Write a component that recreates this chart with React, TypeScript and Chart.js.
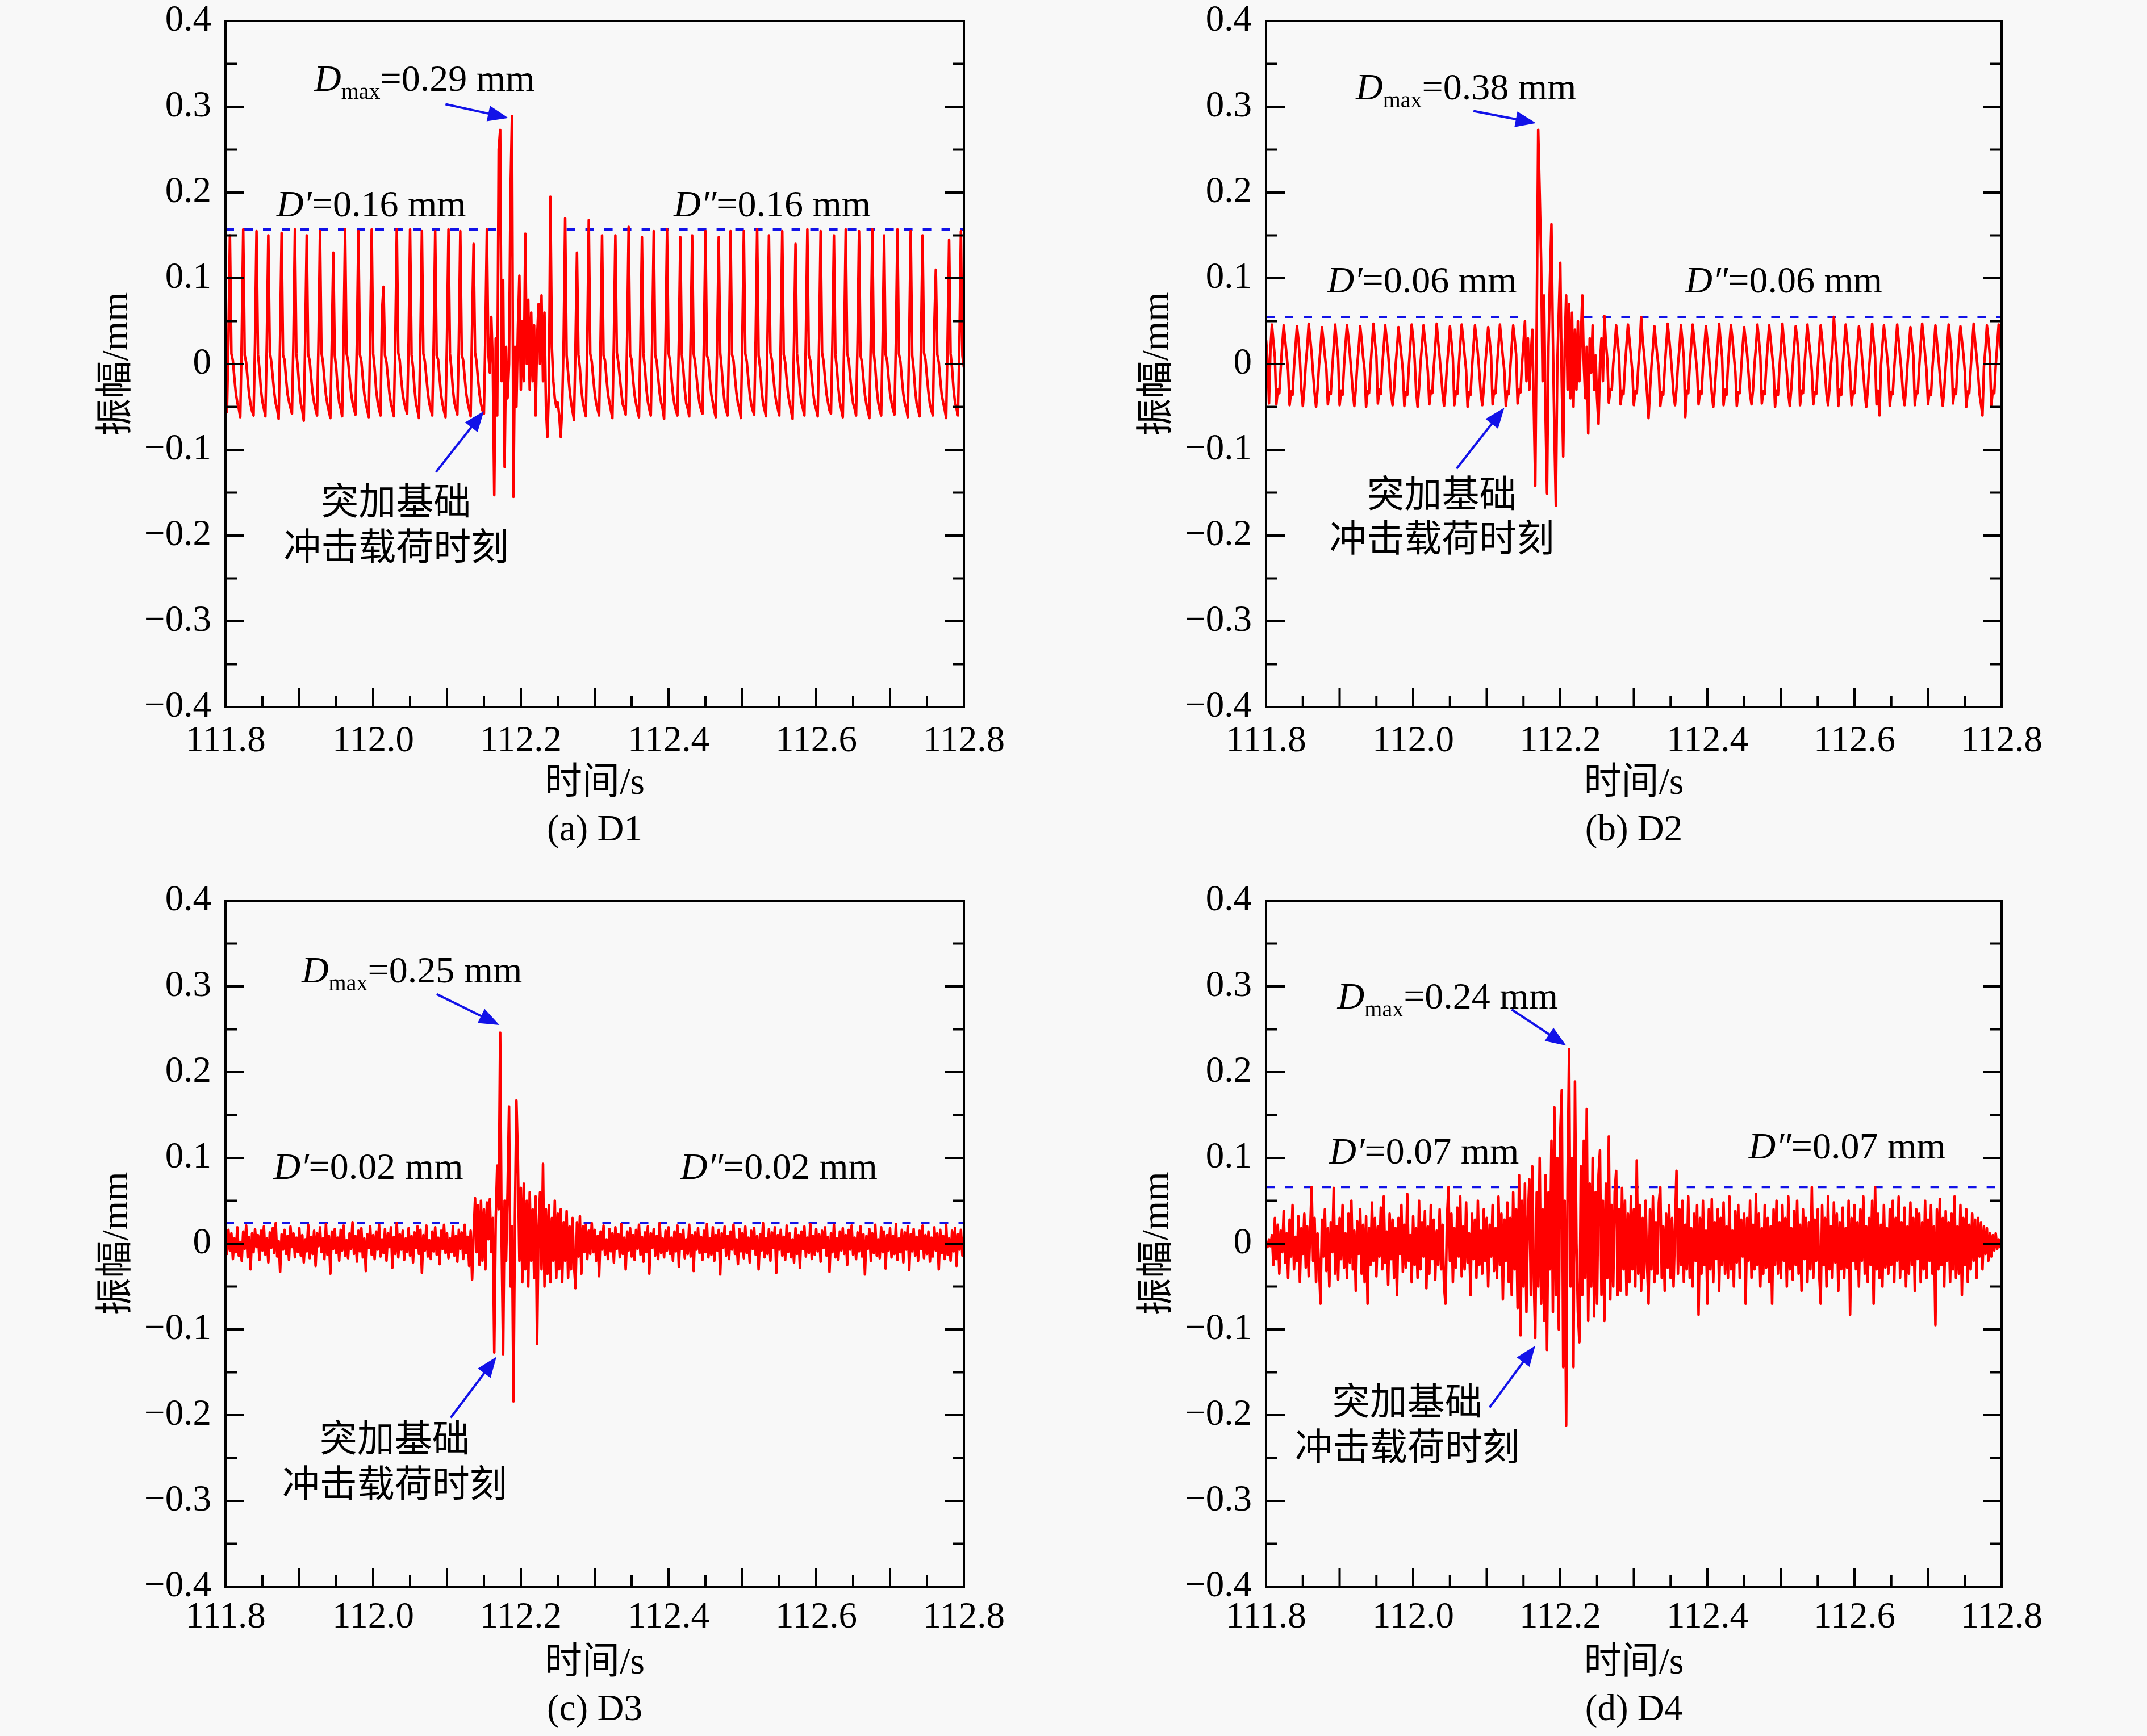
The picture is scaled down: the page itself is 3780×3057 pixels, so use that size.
import React, { useEffect, useRef } from "react";
import { Chart, registerables } from "chart.js";

Chart.register(...registerables);

// ---------- sampling of the traces ----------
const SAMPLE_START = 111.8; // s
const SAMPLE_STEP = 0.002; // s

// ---------- axes ----------
const xTickLabels = [111.8, 112.0, 112.2, 112.4, 112.6, 112.8];
const xMajorTicks = [111.8, 111.9, 112.0, 112.1, 112.2, 112.3, 112.4, 112.5, 112.6, 112.7, 112.8];
const xMinorTicks = [111.85, 111.95, 112.05, 112.15, 112.25, 112.35, 112.45, 112.55, 112.65, 112.75];
const yTickLabels = [-0.4, -0.3, -0.2, -0.1, 0, 0.1, 0.2, 0.3, 0.4];
const yMinorTicks = [-0.35, -0.25, -0.15, -0.05, 0.05, 0.15, 0.25, 0.35];

// ---------- summary values ----------
const captions = ["(a) D1", "(b) D2", "(c) D3", "(d) D4"];
const dmaxValues = ["0.29", "0.38", "0.25", "0.24"];
const dBeforeValues = ["0.16", "0.06", "0.02", "0.07"];
const dAfterValues = ["0.16", "0.06", "0.02", "0.07"];
const dLevels = [0.157, 0.055, 0.024, 0.066];
const dGapStart = [112.169, 112.143, 112.122, 112.147];
const dGapEnd = [112.262, 112.232, 112.285, 112.27];

// ---------- traces (mm) ----------
const d1Amplitude = [
  -0.046, -0.056, 0.030,
  0.150, 0.012, 0.004, -0.016, -0.034, -0.045, -0.052, -0.062, 0.030,
  0.157, 0.010, 0.002, -0.018, -0.036, -0.047, -0.055, -0.060, 0.025,
  0.155, 0.011, -0.006, -0.030, -0.044, -0.052, -0.061, 0.028,
  0.150, 0.014, 0.003, -0.015, -0.033, -0.046, -0.053, -0.064, 0.032,
  0.153, 0.010, 0.005, -0.017, -0.035, -0.044, -0.051, -0.058, 0.027,
  0.157, 0.012, -0.004, -0.028, -0.046, -0.054, -0.066, 0.030,
  0.150, 0.011, 0.004, -0.016, -0.034, -0.045, -0.053, -0.060, 0.029,
  0.155, 0.013, 0.002, -0.018, -0.036, -0.047, -0.055, -0.063, 0.026,
  0.130, 0.010, -0.005, -0.029, -0.045, -0.052, -0.061, 0.031,
  0.157, 0.012, 0.004, -0.015, -0.033, -0.045, -0.052, -0.059, 0.028,
  0.155, 0.011, 0.003, -0.017, -0.035, -0.046, -0.054, -0.062, 0.030,
  0.157, 0.012, -0.005, -0.030, -0.044, -0.053, -0.060, 0.062,
  0.090, 0.010, 0.002, -0.016, -0.034, -0.046, -0.053, -0.061, 0.029,
  0.157, 0.013, 0.004, -0.018, -0.035, -0.045, -0.052, -0.058, 0.027,
  0.157, 0.011, -0.004, -0.029, -0.046, -0.054, -0.063, 0.030,
  0.155, 0.012, 0.003, -0.015, -0.033, -0.046, -0.053, -0.060, 0.028,
  0.155, 0.010, 0.005, -0.017, -0.036, -0.047, -0.055, -0.062, 0.031,
  0.157, 0.012, -0.006, -0.030, -0.045, -0.052, -0.059, 0.026,
  0.155, 0.011, 0.004, -0.016, -0.034, -0.045, -0.053, -0.061, 0.045,
  0.140, 0.013, 0.003, -0.018, -0.035, -0.046, -0.054, -0.058, 0.035,
  0.157,
  0.012, -0.010, 0.055, 0.000, -0.153, 0.030, -0.060, 0.250, 0.273, -0.020,
  0.098, -0.120, 0.020, -0.040, 0.000, 0.200, 0.289, -0.155, 0.020, -0.050,
  0.040, 0.103, -0.030, 0.050, -0.020, 0.152, 0.000, 0.075, -0.030, 0.060,
  -0.020, 0.045, -0.060, 0.030, 0.070, 0.000, 0.080, -0.020, 0.060, -0.050,
  -0.085, -0.030, 0.195, 0.020, -0.020, -0.040, -0.050, -0.045, -0.060, -0.085,
  -0.050, 0.030, 0.170, 0.010, -0.010, -0.030, -0.045, -0.055, -0.065, 0.020,
  0.130, 0.011, -0.005, -0.030, -0.045, -0.053, -0.061, 0.028,
  0.168, 0.012, 0.003, -0.016, -0.034, -0.046, -0.053, -0.060, 0.030,
  0.150, 0.010, 0.004, -0.017, -0.035, -0.045, -0.054, -0.063, 0.027,
  0.150, 0.013, 0.002, -0.015, -0.033, -0.047, -0.052, -0.059, 0.031,
  0.160, 0.011, 0.005, -0.018, -0.036, -0.046, -0.055, -0.062, 0.028,
  0.148, 0.012, -0.004, -0.029, -0.044, -0.053, -0.060, 0.030,
  0.155, 0.010, 0.003, -0.016, -0.034, -0.045, -0.052, -0.064, 0.029,
  0.157, 0.013, 0.004, -0.017, -0.035, -0.047, -0.054, -0.060, 0.026,
  0.148, 0.011, -0.006, -0.030, -0.046, -0.052, -0.061, 0.032,
  0.150, 0.012, 0.002, -0.015, -0.033, -0.046, -0.053, -0.058, 0.028,
  0.155, 0.010, 0.005, -0.018, -0.036, -0.045, -0.055, -0.062, 0.030,
  0.148, 0.013, -0.005, -0.028, -0.045, -0.054, -0.060, 0.027,
  0.155, 0.011, 0.004, -0.016, -0.034, -0.046, -0.052, -0.063, 0.031,
  0.155, 0.012, 0.003, -0.017, -0.035, -0.047, -0.054, -0.059, 0.029,
  0.157, 0.010, -0.004, -0.029, -0.046, -0.053, -0.061, 0.028,
  0.150, 0.013, 0.005, -0.015, -0.033, -0.045, -0.052, -0.060, 0.030,
  0.155, 0.011, 0.002, -0.018, -0.036, -0.046, -0.055, -0.064, 0.027,
  0.140, 0.012, -0.006, -0.030, -0.045, -0.052, -0.060, 0.031,
  0.157, 0.010, 0.004, -0.016, -0.034, -0.047, -0.053, -0.061, 0.028,
  0.155, 0.013, 0.003, -0.017, -0.035, -0.045, -0.054, -0.058, 0.029,
  0.150, 0.011, -0.005, -0.028, -0.044, -0.053, -0.062, 0.030,
  0.157, 0.012, 0.005, -0.015, -0.033, -0.046, -0.052, -0.060, 0.027,
  0.155, 0.010, 0.002, -0.018, -0.036, -0.047, -0.055, -0.063, 0.031,
  0.157, 0.013, -0.004, -0.029, -0.045, -0.054, -0.060, 0.028,
  0.150, 0.011, 0.004, -0.016, -0.034, -0.045, -0.053, -0.059, 0.030,
  0.157, 0.012, 0.003, -0.017, -0.035, -0.046, -0.052, -0.062, 0.029,
  0.155, 0.010, -0.006, -0.030, -0.046, -0.053, -0.061, 0.028,
  0.150, 0.013, 0.005, -0.015, -0.033, -0.047, -0.054, -0.060, 0.045,
  0.110, 0.011, 0.002, -0.018, -0.036, -0.045, -0.053, -0.063, 0.030,
  0.145, 0.012, -0.005, -0.029, -0.045, -0.052, -0.060, 0.028,
  0.155, 0.010, -0.004,
];

const d2Amplitude = [
  0.028, 0.006, -0.046, 0.018,
  0.046, 0.026, 0.008, -0.047, -0.030, -0.034, -0.004, 0.022,
  0.045, 0.028, 0.010, -0.008, -0.048, -0.032, -0.036, -0.004, 0.020,
  0.044, 0.029, 0.006, -0.030, -0.049, -0.028, 0.000, 0.020,
  0.047, 0.030, 0.012, -0.012, -0.034, -0.050, -0.030, -0.002, 0.018,
  0.043, 0.027, 0.009, -0.006, -0.047, -0.033, -0.035, -0.005, 0.021,
  0.046, 0.025, 0.007, -0.048, -0.031, -0.036, -0.003, 0.023,
  0.045, 0.031, 0.011, -0.010, -0.033, -0.049, -0.029, -0.001, 0.019,
  0.044, 0.028, 0.008, -0.007, -0.050, -0.032, -0.034, -0.004, 0.022,
  0.047, 0.026, 0.009, -0.046, -0.030, -0.035, -0.002, 0.020,
  0.045, 0.029, 0.012, -0.011, -0.035, -0.048, -0.031, -0.003, 0.018,
  0.043, 0.027, 0.010, -0.008, -0.049, -0.033, -0.036, -0.005, 0.021,
  0.046, 0.030, 0.006, -0.031, -0.050, -0.029, 0.001, 0.022,
  0.045, 0.028, 0.011, -0.009, -0.047, -0.031, -0.034, -0.004, 0.020,
  0.047, 0.026, 0.008, -0.012, -0.034, -0.049, -0.030, -0.002, 0.019,
  0.044, 0.027, 0.007, -0.048, -0.032, -0.035, -0.003, 0.023,
  0.046, 0.029, 0.010, -0.007, -0.050, -0.033, -0.036, -0.004, 0.021,
  0.045, 0.030, 0.012, -0.010, -0.035, -0.048, -0.029, -0.001, 0.020,
  0.043, 0.028, 0.009, -0.047, -0.031, -0.034, -0.002, 0.022,
  0.046, 0.027, 0.008, -0.008, -0.049, -0.032, -0.035, -0.005, 0.021,
  0.045, 0.029, 0.011, -0.046, -0.030, -0.033, 0.000, 0.024,
  0.050, -0.020, 0.030, -0.030, 0.010, 0.040, -0.050, -0.142, 0.050, 0.273,
  0.200, 0.120, -0.020, 0.080, -0.060, -0.151, 0.020, 0.100, 0.163, 0.030,
  -0.080, -0.165, 0.000, 0.060, 0.118, -0.020, -0.108, 0.020, 0.080, -0.030,
  0.070, -0.040, 0.060, -0.050, 0.040, -0.030, 0.050, -0.020, 0.030, 0.080,
  0.000, -0.040, 0.020, -0.081, 0.030, -0.010, 0.045, -0.030, 0.010, -0.040,
  -0.070, 0.000, 0.030, -0.020, 0.056, 0.025, 0.005, -0.045, -0.030, -0.030, 0.000, 0.020,
  0.045, 0.027, 0.008, -0.047, -0.031, -0.035, -0.003, 0.022,
  0.046, 0.029, 0.010, -0.009, -0.048, -0.032, -0.034, -0.004, 0.020,
  0.055, 0.028, 0.011, -0.011, -0.034, -0.063, -0.030, -0.002, 0.019,
  0.044, 0.026, 0.009, -0.007, -0.049, -0.033, -0.036, -0.005, 0.021,
  0.047, 0.030, 0.012, -0.010, -0.035, -0.048, -0.029, -0.001, 0.018,
  0.045, 0.027, 0.007, -0.062, -0.031, -0.034, -0.002, 0.022,
  0.046, 0.029, 0.010, -0.008, -0.047, -0.032, -0.035, -0.004, 0.020,
  0.044, 0.028, 0.011, -0.012, -0.034, -0.050, -0.030, -0.003, 0.019,
  0.047, 0.026, 0.008, -0.048, -0.030, -0.036, -0.002, 0.023,
  0.045, 0.030, 0.010, -0.009, -0.049, -0.033, -0.034, -0.005, 0.021,
  0.043, 0.027, 0.012, -0.011, -0.035, -0.047, -0.031, -0.001, 0.020,
  0.046, 0.029, 0.009, -0.046, -0.032, -0.035, -0.003, 0.022,
  0.045, 0.028, 0.011, -0.007, -0.050, -0.031, -0.036, -0.004, 0.019,
  0.047, 0.026, 0.008, -0.010, -0.034, -0.049, -0.030, -0.002, 0.021,
  0.044, 0.030, 0.010, -0.048, -0.031, -0.034, -0.003, 0.023,
  0.046, 0.027, 0.012, -0.008, -0.047, -0.033, -0.035, -0.005, 0.020,
  0.045, 0.029, 0.009, -0.012, -0.035, -0.048, -0.029, -0.001, 0.018,
  0.055, 0.028, 0.007, -0.049, -0.030, -0.036, -0.002, 0.022,
  0.046, 0.026, 0.011, -0.009, -0.048, -0.032, -0.034, -0.004, 0.021,
  0.044, 0.030, 0.010, -0.011, -0.034, -0.050, -0.031, -0.003, 0.019,
  0.047, 0.027, 0.008, -0.047, -0.031, -0.060, -0.002, 0.022,
  0.045, 0.029, 0.012, -0.007, -0.049, -0.033, -0.035, -0.005, 0.020,
  0.046, 0.028, 0.009, -0.010, -0.035, -0.048, -0.030, -0.001, 0.021,
  0.043, 0.026, 0.010, -0.048, -0.032, -0.034, -0.003, 0.023,
  0.047, 0.030, 0.011, -0.008, -0.047, -0.031, -0.036, -0.004, 0.019,
  0.045, 0.027, 0.008, -0.012, -0.034, -0.049, -0.029, -0.002, 0.020,
  0.046, 0.029, 0.010, -0.046, -0.030, -0.035, -0.001, 0.022,
  0.044, 0.028, 0.012, -0.009, -0.050, -0.032, -0.034, -0.005, 0.021,
  0.047, 0.026, 0.009, -0.011, -0.035, -0.047, -0.060, -0.003, 0.018,
  0.045, 0.030, 0.010, -0.048, -0.031, -0.034, -0.002, 0.022,
  0.046, 0.027, 0.009,
];

const d3Amplitude = [
  0.004, -0.012, 0.016, -0.008, 0.012, -0.018, 0.006, -0.010, 0.019, -0.014, 0.002, -0.020, 0.014, -0.006, 0.021, -0.016, 0.008, -0.030, 0.012, -0.010, 0.017, -0.004, 0.010, -0.019, 0.015,
  -0.008, 0.020, -0.013, 0.006, -0.022, 0.013, -0.005, 0.018, -0.011, 0.024, -0.015, 0.003, -0.033, 0.011, -0.007, 0.016, -0.012, 0.009, -0.019, 0.020, -0.004, 0.012, -0.016, 0.007, -0.010,
  0.018, -0.014, 0.010, -0.022, 0.005, -0.009, 0.022, -0.017, 0.008, -0.012, 0.015, -0.026, 0.012, -0.003, 0.019, -0.010, 0.006, -0.018, 0.023, -0.013, 0.009, -0.035, 0.014, -0.006, 0.017,
  -0.011, 0.007, -0.020, 0.016, -0.008, 0.021, -0.014, 0.004, -0.017, 0.012, -0.006, 0.025, -0.012, 0.009, -0.021, 0.015, -0.009, 0.018, -0.016, 0.006, -0.032, 0.011, -0.005, 0.020, -0.013,
  0.010, -0.018, 0.014, -0.007, 0.022, -0.015, 0.005, -0.011, 0.017, -0.020, 0.012, -0.004, 0.019, -0.028, 0.008, -0.012, 0.024, -0.016, 0.011, -0.007, 0.015, -0.019, 0.006, -0.010, 0.018,
  -0.014, 0.009, -0.022, 0.013, -0.005, 0.020, -0.012, 0.016, -0.034, 0.010, -0.008, 0.021, -0.015, 0.004, -0.018, 0.014, -0.009, 0.019, -0.013, 0.007, -0.024, 0.015, -0.006, 0.022, -0.011,
  0.012, -0.017, 0.006, -0.010, 0.020, -0.014, 0.009, -0.021, 0.016, -0.006, 0.013, -0.018, 0.022, -0.011, 0.008, -0.026, 0.015, -0.042, 0.010, 0.053, -0.010, 0.045, -0.025, 0.050, -0.020,
  0.040, -0.030, 0.048, 0.005, 0.052, -0.010, 0.030, -0.127, 0.030, 0.091, 0.040, 0.246, 0.000, -0.129, 0.050, -0.020, 0.060, 0.160, -0.050, 0.020, -0.184, 0.030, 0.167, 0.098, -0.020,
  0.065, -0.045, 0.070, -0.030, 0.050, -0.050, 0.060, -0.020, 0.040, -0.040, 0.055, -0.117, 0.020, 0.060, -0.030, 0.093, -0.050, 0.040, -0.035, 0.045, -0.045, 0.030, -0.020, 0.050, -0.040,
  0.035, -0.030, 0.040, -0.045, 0.025, -0.020, 0.038, -0.040, 0.020, -0.030, 0.030, -0.025, -0.052, 0.025, -0.015, 0.032, -0.035, 0.020, -0.010, 0.022, -0.018, 0.015, -0.012, 0.024, -0.010,
  0.016, -0.020, 0.009, -0.038, 0.014, -0.007, 0.021, -0.013, 0.005, -0.018, 0.017, -0.009, 0.012, -0.022, 0.019, -0.006, 0.011, -0.016, 0.023, -0.012, 0.007, -0.030, 0.014, -0.008, 0.018,
  -0.015, 0.010, -0.019, 0.016, -0.006, 0.022, -0.013, 0.008, -0.021, 0.013, -0.010, 0.020, -0.035, 0.012, -0.005, 0.017, -0.014, 0.009, -0.018, 0.024, -0.011, 0.006, -0.016, 0.015, -0.008,
  0.019, -0.012, 0.007, -0.020, 0.014, -0.009, 0.021, -0.027, 0.011, -0.006, 0.016, -0.017, 0.005, -0.012, 0.022, -0.015, 0.010, -0.032, 0.013, -0.007, 0.018, -0.011, 0.008, -0.019, 0.015,
  -0.010, 0.023, -0.016, 0.006, -0.013, 0.019, -0.020, 0.010, -0.008, 0.016, -0.036, 0.012, -0.005, 0.020, -0.014, 0.009, -0.018, 0.014, -0.007, 0.022, -0.012, 0.005, -0.024, 0.017, -0.009,
  0.012, -0.017, 0.020, -0.011, 0.007, -0.022, 0.015, -0.006, 0.018, -0.013, 0.009, -0.030, 0.011, -0.008, 0.024, -0.016, 0.006, -0.012, 0.017, -0.020, 0.013, -0.005, 0.019, -0.034, 0.010,
  -0.007, 0.016, -0.014, 0.008, -0.019, 0.021, -0.010, 0.012, -0.016, 0.005, -0.022, 0.018, -0.012, 0.010, -0.028, 0.014, -0.006, 0.020, -0.015, 0.007, -0.011, 0.023, -0.018, 0.009, -0.013,
  0.017, -0.009, 0.011, -0.021, 0.015, -0.005, 0.019, -0.014, 0.008, -0.033, 0.012, -0.010, 0.022, -0.016, 0.006, -0.019, 0.014, -0.008, 0.018, -0.012, 0.010, -0.025, 0.016, -0.007, 0.021,
  -0.013, 0.007, -0.018, 0.013, -0.009, 0.020, -0.015, 0.011, -0.036, 0.009, -0.006, 0.017, -0.020, 0.012, -0.011, 0.022, -0.014, 0.005, -0.017, 0.019, -0.010, 0.014, -0.029, 0.010, -0.008,
  0.018, -0.016, 0.009, -0.012, 0.023, -0.019, 0.006, -0.010, 0.016, -0.022, 0.013, -0.007, 0.020, -0.031, 0.011, -0.009, 0.017, -0.014, 0.008, -0.020, 0.015, -0.006, 0.021, -0.017, 0.010,
  -0.012, 0.014, -0.021, 0.007, -0.015, 0.019, -0.008, 0.012, -0.030, 0.016, -0.011, 0.009, -0.018, 0.022, -0.013, 0.006, -0.020, 0.015, -0.009, 0.018, -0.026, 0.011, -0.007, 0.016, -0.014,
  0.008,
];

const d4Amplitude = [
  0.002, -0.004, 0.005, -0.003, 0.010, -0.025, 0.030, -0.018, 0.022, -0.035, 0.015, -0.010, 0.038, -0.022, 0.012, -0.040, 0.028, -0.015, 0.045, -0.030, 0.008, -0.020, 0.032, -0.045, 0.018,
  -0.012, 0.035, -0.028, 0.020, -0.038, 0.015, 0.066, -0.020, 0.030, -0.045, 0.012, -0.025, -0.070, 0.028, -0.015, 0.040, -0.032, 0.018, -0.050, 0.025, -0.010, 0.065, -0.035, 0.020, -0.042,
  0.030, -0.018, 0.045, -0.028, 0.012, -0.040, 0.035, -0.022, 0.050, -0.030, 0.015, -0.055, 0.026, -0.012, 0.040, -0.035, 0.022, -0.045, 0.032, -0.070, 0.018, -0.025, 0.048, -0.020, 0.030,
  -0.038, 0.020, -0.015, 0.042, -0.030, 0.055, -0.022, 0.014, -0.048, 0.035, -0.018, 0.028, -0.040, 0.018, -0.060, 0.030, -0.012, 0.045, -0.033, 0.022, -0.028, 0.058, -0.020, 0.010, -0.045,
  0.032, -0.025, 0.018, -0.040, 0.050, -0.030, 0.025, -0.015, 0.038, -0.052, 0.020, -0.035, 0.045, -0.018, 0.028, -0.042, 0.015, -0.025, 0.040, -0.030, 0.022, -0.050, -0.070, 0.030, 0.066,
  -0.020, 0.035, -0.045, 0.018, -0.028, 0.042, -0.015, 0.055, -0.038, 0.020, -0.030, 0.048, -0.022, 0.012, -0.060, 0.035, -0.018, 0.028, -0.040, 0.050, -0.025, 0.015, -0.035, 0.040, -0.020,
  0.030, -0.050, 0.022, -0.015, 0.045, -0.032, 0.018, -0.040, 0.055, -0.025, 0.035, -0.065, 0.028, -0.020, 0.048, -0.045, 0.030, -0.060, 0.060, -0.030, 0.040, -0.075, 0.080, -0.107, 0.050,
  -0.050, 0.070, -0.080, 0.030, 0.075, -0.060, 0.090, -0.040, -0.110, 0.060, -0.050, 0.100, -0.070, 0.040, -0.090, 0.080, -0.124, 0.060, -0.030, 0.120, -0.080, 0.159, -0.060, 0.100, -0.100,
  0.130, 0.179, -0.144, 0.050, -0.212, 0.080, 0.227, -0.050, 0.100, -0.144, 0.189, 0.000, -0.080, -0.115, 0.090, -0.060, 0.120, -0.040, 0.157, -0.090, 0.070, -0.050, 0.100, -0.085, 0.060,
  -0.070, 0.080, 0.109, -0.060, 0.050, -0.090, 0.070, -0.040, 0.125, -0.065, 0.045, -0.050, 0.060, 0.085, -0.060, 0.040, -0.055, 0.065, -0.030, 0.050, -0.060, 0.035, -0.045, 0.055, -0.030,
  0.040, -0.050, 0.097, -0.035, 0.045, -0.055, 0.030, -0.040, 0.050, -0.025, -0.070, 0.040, -0.030, 0.055, -0.045, 0.025, -0.035, 0.048, 0.066, -0.040, 0.020, -0.055, 0.035, -0.028, 0.045,
  -0.040, 0.030, -0.050, 0.020, 0.085, -0.035, 0.040, -0.025, 0.050, -0.045, 0.022, -0.030, 0.055, -0.040, 0.018, -0.050, 0.035, -0.020, 0.045, -0.083, 0.030, -0.035, 0.050, -0.025, 0.015,
  -0.070, 0.040, -0.030, 0.052, -0.045, 0.025, -0.018, 0.040, -0.055, 0.030, -0.025, 0.048, -0.035, 0.020, -0.040, 0.055, -0.030, 0.015, -0.050, 0.038, -0.022, 0.045, -0.040, 0.028, -0.015,
  0.035, -0.070, 0.030, -0.020, 0.050, -0.040, 0.022, -0.030, 0.058, -0.025, 0.035, -0.050, 0.018, -0.035, 0.045, -0.028, 0.030, -0.045, 0.020, -0.070, 0.040, -0.025, 0.050, -0.035, 0.025,
  -0.040, 0.045, -0.020, 0.030, -0.050, 0.055, -0.030, 0.018, -0.042, 0.038, -0.025, 0.050, -0.035, 0.022, -0.055, 0.040, -0.018, 0.030, -0.045, 0.025, -0.030, 0.066, -0.040, 0.028, -0.020,
  0.040, -0.035, -0.070, 0.045, -0.025, 0.030, -0.050, 0.055, -0.030, 0.020, -0.040, 0.048, -0.022, 0.035, -0.055, 0.025, -0.030, 0.042, -0.040, 0.018, -0.028, 0.050, -0.083, 0.030, -0.020,
  0.045, -0.030, 0.025, -0.050, 0.040, -0.020, 0.055, -0.035, 0.020, -0.045, 0.030, -0.025, 0.050, -0.070, 0.066, -0.030, 0.035, -0.040, 0.022, -0.050, 0.045, -0.028, 0.018, -0.035, 0.040,
  -0.025, 0.050, -0.045, 0.030, -0.020, 0.055, -0.040, 0.025, -0.030, 0.042, -0.050, 0.020, -0.035, 0.048, -0.025, 0.030, -0.055, 0.040, -0.018, 0.035, -0.045, 0.025, -0.030, 0.050, -0.040,
  0.028, -0.020, 0.045, -0.035, 0.020, -0.095, 0.040, -0.030, 0.052, -0.025, 0.030, -0.050, 0.038, -0.020, 0.025, -0.045, 0.035, -0.030, 0.055, -0.040, 0.020, -0.035, 0.045, -0.060, 0.030,
  -0.025, 0.040, -0.045, 0.022, -0.030, 0.035, -0.020, 0.028, -0.040, 0.030, -0.015, 0.025, -0.030, 0.020, -0.012, 0.018, -0.020, 0.012, -0.015, 0.010, -0.008, 0.012, -0.006, 0.005, -0.004,
  0.002,
];

const signals = [d1Amplitude, d2Amplitude, d3Amplitude, d4Amplitude];

// ---------- layout / styling (page pixels, data-space anchors for notes) ----------
type Pt = [number, number];
interface PanelLayout {
  left: number;
  top: number;
  w: number;
  h: number;
  plot: [number, number, number, number];
  xPad: number;
  dmaxPos: Pt;
  arrowTop: [Pt, Pt];
  dpPos: Pt;
  dppPos: Pt;
  cnPos: [number, number, number];
  arrowCn: [Pt, Pt];
}

const LAYOUTS: PanelLayout[] = [
  {
    left: 0, top: -30, w: 1890, h: 1558, plot: [397, 67, 1697, 1275], xPad: 28,
    dmaxPos: [111.92, 0.333], arrowTop: [[112.098, 0.303], [112.183, 0.287]],
    dpPos: [111.869, 0.187], dppPos: [112.407, 0.187],
    cnPos: [112.031, -0.159, -0.212], arrowCn: [[112.085, -0.126], [112.15, -0.055]],
  },
  {
    left: 1890, top: -30, w: 1890, h: 1558, plot: [339, 67, 1634, 1275], xPad: 28,
    dmaxPos: [111.922, 0.323], arrowTop: [[112.082, 0.295], [112.167, 0.281]],
    dpPos: [111.883, 0.098], dppPos: [112.37, 0.098],
    cnPos: [112.039, -0.15, -0.202], arrowCn: [[112.059, -0.122], [112.124, -0.051]],
  },
  {
    left: 0, top: 1528, w: 1890, h: 1529, plot: [397, 58, 1697, 1266], xPad: 22,
    dmaxPos: [111.903, 0.319], arrowTop: [[112.086, 0.291], [112.171, 0.255]],
    dpPos: [111.865, 0.09], dppPos: [112.416, 0.09],
    cnPos: [112.029, -0.226, -0.279], arrowCn: [[112.105, -0.203], [112.167, -0.132]],
  },
  {
    left: 1890, top: 1528, w: 1890, h: 1529, plot: [339, 58, 1634, 1266], xPad: 22,
    dmaxPos: [111.897, 0.289], arrowTop: [[112.134, 0.273], [112.208, 0.231]],
    dpPos: [111.886, 0.108], dppPos: [112.456, 0.114],
    cnPos: [111.992, -0.183, -0.236], arrowCn: [[112.104, -0.191], [112.166, -0.119]],
  },
];

const SERIF = '"Liberation Serif", "Times New Roman", serif';
const CJK = '"Noto Sans CJK SC", "Liberation Serif", sans-serif';
const MIXED = '"Liberation Serif", "Noto Sans CJK SC", serif';
const BLUE = "#1212e8";
const RED = "#ff0000";
const Y_AXIS_W = 200;
const X_AXIS_H = 120;
const MAJOR_LEN = 33;
const MINOR_LEN = 20;

Chart.defaults.font.family = SERIF;

function drawParts(
  ctx: CanvasRenderingContext2D,
  x: number,
  baseline: number,
  parts: { t: string; f: string; dy?: number }[]
) {
  let cx = x;
  for (const p of parts) {
    ctx.font = p.f;
    ctx.fillText(p.t, cx, baseline + (p.dy || 0));
    cx += ctx.measureText(p.t).width;
  }
}

function drawArrow(ctx: CanvasRenderingContext2D, x1: number, y1: number, x2: number, y2: number) {
  const ang = Math.atan2(y2 - y1, x2 - x1);
  const L = 36;
  const hw = 14;
  const bx = x2 - L * Math.cos(ang);
  const by = y2 - L * Math.sin(ang);
  ctx.beginPath();
  ctx.moveTo(x1, y1);
  ctx.lineTo(bx + 2 * Math.cos(ang), by + 2 * Math.sin(ang));
  ctx.stroke();
  ctx.beginPath();
  ctx.moveTo(x2, y2);
  ctx.lineTo(bx + hw * Math.sin(ang), by - hw * Math.cos(ang));
  ctx.lineTo(bx - hw * Math.sin(ang), by + hw * Math.cos(ang));
  ctx.closePath();
  ctx.fill();
}

function makeDecor(idx: number) {
  const L = LAYOUTS[idx];
  return {
    id: "decor" + idx,
    afterDraw(chart: any) {
      const ctx: CanvasRenderingContext2D = chart.ctx;
      const a = chart.chartArea;
      const sx = chart.scales.x;
      const sy = chart.scales.y;
      const X = (v: number) => sx.getPixelForValue(v);
      const Y = (v: number) => sy.getPixelForValue(v);
      ctx.save();
      // ticks (inward)
      ctx.strokeStyle = "#000";
      ctx.lineWidth = 4;
      ctx.lineCap = "butt";
      ctx.beginPath();
      for (const v of xMajorTicks) {
        const x = X(v);
        ctx.moveTo(x, a.bottom);
        ctx.lineTo(x, a.bottom - MAJOR_LEN);
      }
      for (const v of xMinorTicks) {
        const x = X(v);
        ctx.moveTo(x, a.bottom);
        ctx.lineTo(x, a.bottom - MINOR_LEN);
      }
      for (const v of yTickLabels) {
        const y = Y(v);
        ctx.moveTo(a.left, y);
        ctx.lineTo(a.left + MAJOR_LEN, y);
        ctx.moveTo(a.right, y);
        ctx.lineTo(a.right - MAJOR_LEN, y);
      }
      for (const v of yMinorTicks) {
        const y = Y(v);
        ctx.moveTo(a.left, y);
        ctx.lineTo(a.left + MINOR_LEN, y);
        ctx.moveTo(a.right, y);
        ctx.lineTo(a.right - MINOR_LEN, y);
      }
      ctx.stroke();
      ctx.strokeRect(a.left, a.top, a.right - a.left, a.bottom - a.top);

      // axis titles and caption
      ctx.fillStyle = "#000";
      ctx.textAlign = "center";
      ctx.textBaseline = "middle";
      const midX = (a.left + a.right) / 2;
      ctx.font = `66px ${MIXED}`;
      ctx.fillText("时间/s", midX, a.bottom + 136);
      ctx.font = `65px ${SERIF}`;
      ctx.fillText(captions[idx], midX, a.bottom + 218);
      ctx.save();
      ctx.translate(a.left - 190, (a.top + a.bottom) / 2);
      ctx.rotate(-Math.PI / 2);
      ctx.font = `66px ${MIXED}`;
      ctx.fillText("振幅/mm", 0, 0);
      ctx.restore();

      // value notes
      ctx.textAlign = "left";
      ctx.textBaseline = "alphabetic";
      const it = `italic 66px ${SERIF}`;
      const rg = `66px ${SERIF}`;
      drawParts(ctx, X(L.dmaxPos[0]), Y(L.dmaxPos[1]) + 22, [
        { t: "D", f: it },
        { t: "max", f: `40px ${SERIF}`, dy: 14 },
        { t: "=" + dmaxValues[idx] + " mm", f: rg },
      ]);
      drawParts(ctx, X(L.dpPos[0]), Y(L.dpPos[1]) + 22, [
        { t: "D\u2032", f: it },
        { t: "=" + dBeforeValues[idx] + " mm", f: rg },
      ]);
      drawParts(ctx, X(L.dppPos[0]), Y(L.dppPos[1]) + 22, [
        { t: "D\u2033", f: it },
        { t: "=" + dAfterValues[idx] + " mm", f: rg },
      ]);
      ctx.textAlign = "center";
      ctx.textBaseline = "middle";
      ctx.font = `66px ${CJK}`;
      ctx.fillText("突加基础", X(L.cnPos[0]), Y(L.cnPos[1]));
      ctx.fillText("冲击载荷时刻", X(L.cnPos[0]), Y(L.cnPos[2]));

      // arrows
      ctx.strokeStyle = BLUE;
      ctx.fillStyle = BLUE;
      ctx.lineWidth = 4;
      drawArrow(ctx, X(L.arrowTop[0][0]), Y(L.arrowTop[0][1]), X(L.arrowTop[1][0]), Y(L.arrowTop[1][1]));
      drawArrow(ctx, X(L.arrowCn[0][0]), Y(L.arrowCn[0][1]), X(L.arrowCn[1][0]), Y(L.arrowCn[1][1]));
      ctx.restore();
    },
  };
}

function fmtY(v: number): string {
  const r = Math.round(v * 10) / 10;
  if (r === 0) return "0";
  return r < 0 ? "\u2212" + Math.abs(r).toFixed(1) : r.toFixed(1);
}

function Panel({ idx }: { idx: number }) {
  const ref = useRef<HTMLCanvasElement | null>(null);
  const L = LAYOUTS[idx];
  useEffect(() => {
    const canvas = ref.current;
    if (!canvas) return;
    const sig = signals[idx];
    const pts = sig.map((v, i) => ({ x: SAMPLE_START + i * SAMPLE_STEP, y: v }));
    const lvl = dLevels[idx];
    const [pl, pt, pr, pb] = L.plot;
    const chart = new Chart(canvas, {
      type: "line",
      data: {
        datasets: [
          {
            data: pts,
            borderColor: RED,
            borderWidth: 4.5,
            pointRadius: 0,
            tension: 0,
            borderJoinStyle: "round",
          },
          {
            data: [
              { x: xTickLabels[0], y: lvl },
              { x: dGapStart[idx], y: lvl },
            ],
            borderColor: BLUE,
            borderWidth: 4,
            borderDash: [15, 18],
            pointRadius: 0,
          },
          {
            data: [
              { x: dGapEnd[idx], y: lvl },
              { x: xTickLabels[xTickLabels.length - 1], y: lvl },
            ],
            borderColor: BLUE,
            borderWidth: 4,
            borderDash: [15, 18],
            pointRadius: 0,
          },
        ],
      } as any,
      options: {
        animation: false,
        responsive: false,
        devicePixelRatio: 1,
        events: [],
        layout: {
          padding: {
            left: pl - Y_AXIS_W,
            top: pt,
            right: L.w - pr,
            bottom: L.h - pb - X_AXIS_H,
          },
        },
        plugins: {
          legend: { display: false },
          tooltip: { enabled: false },
        },
        scales: {
          x: {
            type: "linear",
            min: xTickLabels[0],
            max: xTickLabels[xTickLabels.length - 1],
            grid: { display: false, drawTicks: false, tickLength: 0 },
            border: { display: false },
            ticks: {
              color: "#000",
              font: { family: SERIF, size: 65, lineHeight: 1 },
              padding: L.xPad,
              maxRotation: 0,
              minRotation: 0,
              autoSkip: false,
              callback: (v: any) => Number(v).toFixed(1),
            },
            afterBuildTicks: (s: any) => {
              s.ticks = xTickLabels.map((v) => ({ value: v }));
            },
            afterFit: (s: any) => {
              s.height = X_AXIS_H;
            },
          },
          y: {
            type: "linear",
            min: yTickLabels[0],
            max: yTickLabels[yTickLabels.length - 1],
            grid: { display: false, drawTicks: false, tickLength: 0 },
            border: { display: false },
            ticks: {
              color: "#000",
              font: { family: SERIF, size: 65, lineHeight: 1 },
              padding: 25,
              autoSkip: false,
              callback: (v: any) => fmtY(Number(v)),
            },
            afterBuildTicks: (s: any) => {
              s.ticks = yTickLabels.map((v) => ({ value: v }));
            },
            afterFit: (s: any) => {
              s.width = Y_AXIS_W;
            },
          },
        },
      } as any,
      plugins: [makeDecor(idx)],
    });
    return () => chart.destroy();
  }, [idx]);
  return (
    <canvas
      ref={ref}
      width={L.w}
      height={L.h}
      style={{ position: "absolute", left: L.left, top: L.top, width: L.w, height: L.h }}
    />
  );
}

export default function App() {
  useEffect(() => {
    document.body.style.margin = "0";
    document.body.style.background = "#f8f8f8";
  }, []);
  return (
    <div
      style={{
        position: "absolute",
        left: 0,
        top: 0,
        width: 3780,
        height: 3057,
        background: "#f8f8f8",
        overflow: "hidden",
      }}
    >
      {[0, 1, 2, 3].map((i) => (
        <Panel key={i} idx={i} />
      ))}
    </div>
  );
}
